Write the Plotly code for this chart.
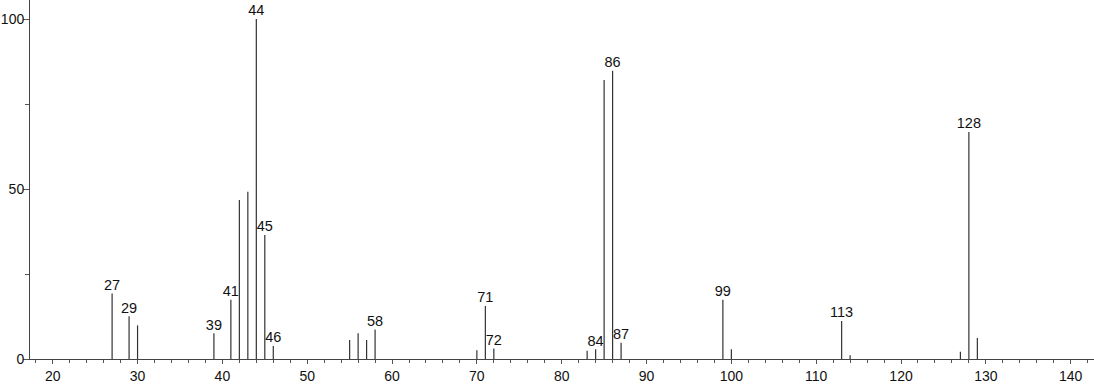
import plotly.graph_objects as go

# m/z values and relative intensities
mz = [27, 29, 30, 39, 41, 42, 43, 44, 45, 46, 55, 56, 57, 58, 70, 71, 72,
      83, 84, 85, 86, 87, 99, 100, 113, 114, 127, 128, 129]
intensity = [19.3, 12.6, 9.9, 7.6, 17.4, 46.8, 49.2, 100.0, 36.5, 3.8,
             5.6, 7.6, 5.6, 8.7, 2.6, 15.6, 3.1,
             2.4, 2.9, 82.1, 84.8, 4.8, 17.4, 2.9, 11.2, 1.1, 2.1, 66.8, 6.2]
labeled = [27, 29, 39, 41, 44, 45, 46, 58, 71, 72, 84, 86, 87, 99, 113, 128]

x_ticks = [20, 30, 40, 50, 60, 70, 80, 90, 100, 110, 120, 130, 140]
y_ticks = [0, 50, 100]

# stick lines
lx, ly = [], []
for m, v in zip(mz, intensity):
    lx += [m, m, None]
    ly += [0, v, None]

lab_x = [m for m in mz if m in labeled]
lab_y = [v for m, v in zip(mz, intensity) if m in labeled]
lab_t = [str(m) for m in lab_x]

fig = go.Figure()
fig.add_trace(go.Scatter(x=lx, y=ly, mode="lines",
                         line=dict(color="#333333", width=1.2),
                         hoverinfo="skip", showlegend=False))
fig.add_trace(go.Scatter(x=lab_x, y=lab_y, mode="text", text=lab_t,
                         textposition="top center",
                         textfont=dict(family="Liberation Sans", size=14.5, color="#111"),
                         showlegend=False))

fig.update_layout(
    template="none",
    width=1094, height=384,
    margin=dict(l=30, r=0, t=0, b=25, pad=0),
    paper_bgcolor="white", plot_bgcolor="white",
    font=dict(family="Liberation Sans", size=14, color="#111"),
)
fig.update_xaxes(range=[17.32, 142.75], tickvals=x_ticks, automargin=False,
                 ticks="outside", ticklen=4, tickcolor="#555", tickwidth=1,
                 minor=dict(dtick=2, tick0=0, ticks="outside", ticklen=3,
                            tickcolor="#555", showgrid=False),
                 showline=True, linecolor="#444", linewidth=1,
                 showgrid=False, zeroline=False,
                 tickfont=dict(family="Liberation Sans", size=14, color="#111"))
fig.update_yaxes(range=[0, 105.6], tickvals=y_ticks, automargin=False,
                 ticks="outside", ticklen=6, tickcolor="#555", tickwidth=1,
                 ticklabelstandoff=-4,
                 minor=dict(dtick=25, tick0=0, ticks="outside", ticklen=4,
                            tickcolor="#555", showgrid=False),
                 showline=True, linecolor="#444", linewidth=1,
                 showgrid=False, zeroline=False,
                 tickfont=dict(family="Liberation Sans", size=14, color="#111"))

fig.write_html("out.html")
